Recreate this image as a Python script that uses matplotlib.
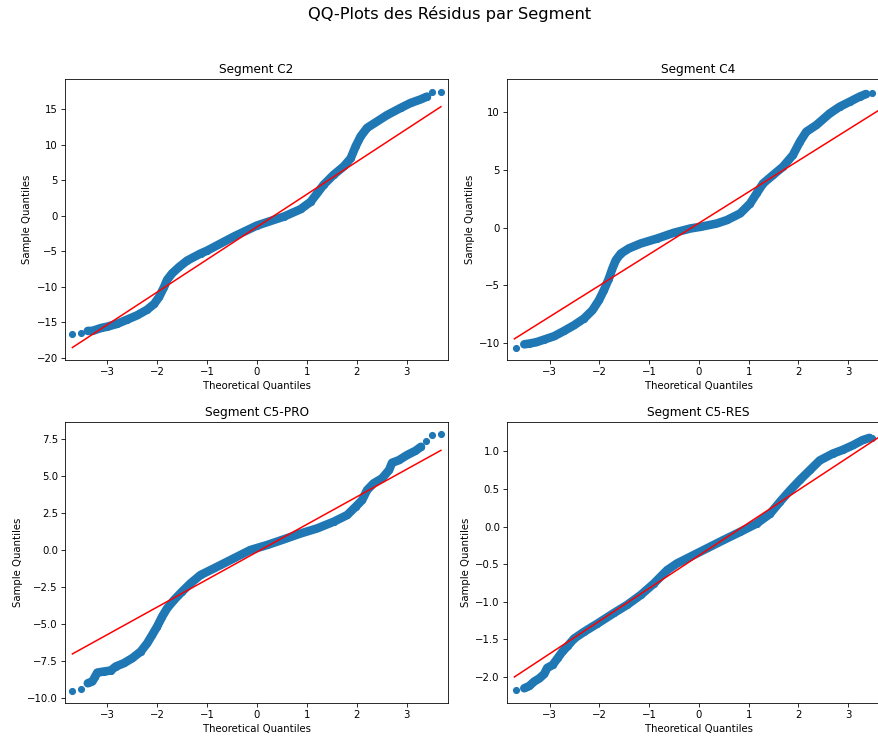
import numpy as np
import matplotlib
matplotlib.use('Agg')
import matplotlib.pyplot as plt

# QQ-plot readings (theoretical quantile, sample quantile) per segment
segments = ['C2', 'C4', 'C5-PRO', 'C5-RES']

c2_x = [-3.70, -3.52, -3.39, -3.30, -3.13, -3.00, -2.80, -2.60, -2.40, -2.20, -2.06, -1.96, -1.86, -1.80,
        -1.70, -1.56, -1.40, -1.13, -1.00, -0.46, 0.00, 0.54, 0.875, 1.08, 1.21, 1.34, 1.54, 1.74, 1.88,
        1.98, 2.08, 2.21, 2.41, 2.61, 2.88, 3.08, 3.28, 3.41, 3.51, 3.69]
c2_y = [-16.66, -16.56, -16.2, -16.2, -15.8, -15.6, -15.2, -14.6, -14.0, -13.2, -12.4, -11.4, -10.0, -9.0,
        -8.1, -7.2, -6.3, -5.3, -4.9, -2.9, -1.36, -0.1, 0.94, 2.0, 3.2, 4.4, 5.8, 6.96, 8.1,
        9.8, 11.2, 12.4, 13.3, 14.2, 15.2, 15.9, 16.4, 16.8, 17.4, 17.44]

c4_x = [-3.68, -3.51, -3.41, -3.27, -3.11, -2.91, -2.71, -2.51, -2.31, -2.14, -2.01, -1.91, -1.81, -1.74,
        -1.67, -1.57, -1.41, -1.17, -0.84, -0.51, -0.17, 0.03, 0.36, 0.56, 0.83, 1.03, 1.16, 1.29, 1.49,
        1.69, 1.89, 2.03, 2.16, 2.36, 2.63, 2.83, 3.03, 3.23, 3.36, 3.49, 3.70]
c4_y = [-10.37, -10.09, -10.03, -9.91, -9.68, -9.39, -8.93, -8.44, -7.86, -7.14, -6.28, -5.41, -4.40, -3.54,
        -2.81, -2.24, -1.80, -1.37, -0.94, -0.45, -0.07, 0.07, 0.36, 0.65, 1.23, 2.09, 2.96, 3.82, 4.55,
        5.27, 6.28, 7.43, 8.30, 8.87, 9.88, 10.46, 10.89, 11.33, 11.56, 11.67, 11.73]

c5p_x = [-3.70, -3.52, -3.39, -3.30, -3.25, -3.20, -3.07, -2.93, -2.83, -2.67, -2.50, -2.33, -2.20, -2.10,
         -2.00, -1.90, -1.80, -1.66, -1.50, -1.33, -1.13, -0.86, -0.46, -0.13, 0.21, 0.54, 0.88, 1.21,
         1.54, 1.81, 1.98, 2.11, 2.21, 2.34, 2.51, 2.65, 2.71, 2.85, 3.01, 3.18, 3.29, 3.40, 3.51, 3.69]
c5p_y = [-9.48, -9.41, -8.99, -8.87, -8.58, -8.27, -8.20, -8.13, -7.86, -7.64, -7.30, -6.85, -6.29, -5.73,
         -5.16, -4.49, -3.93, -3.36, -2.80, -2.24, -1.68, -1.23, -0.55, 0.01, 0.35, 0.73, 1.13, 1.47,
         1.92, 2.37, 2.93, 3.38, 4.06, 4.51, 4.85, 5.41, 5.90, 6.08, 6.42, 6.71, 6.98, 7.39, 7.77, 7.81]

c5r_x = [-3.68, -3.51, -3.41, -3.31, -3.21, -3.11, -3.05, -2.94, -2.84, -2.74, -2.64, -2.51, -2.31, -2.04,
         -1.71, -1.44, -1.17, -0.91, -0.64, -0.44, -0.17, 0.16, 0.49, 0.83, 1.16, 1.43, 1.63, 1.83, 2.03,
         2.23, 2.43, 2.69, 2.89, 3.09, 3.29, 3.43, 3.49]
c5r_y = [-2.18, -2.15, -2.12, -2.06, -2.02, -1.96, -1.88, -1.84, -1.75, -1.66, -1.59, -1.49, -1.40, -1.29,
         -1.15, -1.04, -0.91, -0.76, -0.58, -0.49, -0.40, -0.29, -0.18, -0.07, 0.04, 0.17, 0.33, 0.48, 0.62,
         0.75, 0.88, 0.97, 1.02, 1.08, 1.15, 1.18, 1.18]

# reference line end points
line_x = [[-3.70, 3.69], [-3.71, 3.70], [-3.70, 3.69], [-3.71, 3.70]]
line_y = [[-18.54, 15.38], [-9.62, 10.38], [-7.01, 6.74], [-2.00, 1.225]]

xs = [c2_x, c4_x, c5p_x, c5r_x]
ys = [c2_y, c4_y, c5p_y, c5r_y]
# isolated tail points (not part of the dense band) on each side
tails = [(2, 2), (1, 2), (2, 3), (1, 1)]

W, H = 878, 737
DPI = 73
fig = plt.figure(figsize=(W / DPI, H / DPI), dpi=DPI)
boxes = [(65, 79.3, 448.3, 360.3), (507, 79.3, 890.3, 360.3),
         (65, 421.7, 448.3, 703.3), (507, 421.7, 890.3, 703.3)]

for k in range(4):
    l, t, r, b = boxes[k]
    ax = fig.add_axes([l / W, 1 - b / H, (r - l) / W, (b - t) / H])
    x = np.array(xs[k])
    y = np.array(ys[k])
    a, z = tails[k]
    ax.plot(x[a:len(x) - z], y[a:len(y) - z], '-', color='#1f77b4', lw=8.5,
            solid_capstyle='round', solid_joinstyle='round')
    ax.plot(x, y, 'o', color='#1f77b4', markersize=6)
    ax.plot(line_x[k], line_y[k], 'r-')
    ax.set_xmargin(0.02)
    ax.set_title('Segment ' + segments[k])
    ax.set_xlabel('Theoretical Quantiles')
    ax.set_ylabel('Sample Quantiles')

fig.suptitle('QQ-Plots des Résidus par Segment', fontsize=16, x=450 / W, y=0.992)
fig.savefig('out.png', dpi=DPI)
